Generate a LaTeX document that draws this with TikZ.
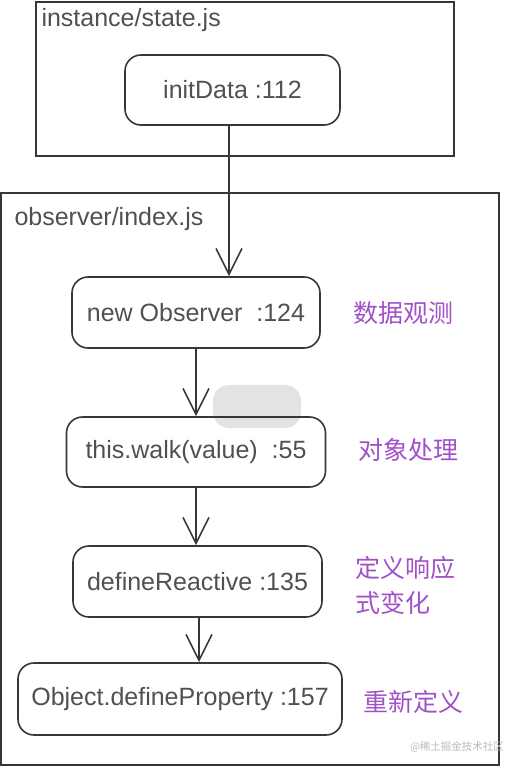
\documentclass[tikz,border=0pt]{standalone}
\usepackage{fontspec}
\setmainfont{Liberation Sans}
\newfontfamily\cjk{Noto Sans CJK SC}
\usetikzlibrary{arrows.meta}
\definecolor{inkgray}{RGB}{55,55,55}
\definecolor{textgray}{RGB}{80,80,80}
\definecolor{notepurple}{RGB}{160,80,200}

\begin{document}
\begin{tikzpicture}[x=1pt,y=-1pt,
  every node/.style={font=\fontsize{25}{29}\selectfont, text=textgray},
  callbox/.style={draw=inkgray, line width=1.6pt, rounded corners=16pt, inner sep=0pt},
  filebox/.style={draw=inkgray, line width=1.8pt},
  flow/.style={draw=inkgray, line width=1.6pt, -{Straight Barb[length=26pt,width=26pt]}},
  note/.style={text=notepurple, font=\cjk\fontsize{25}{35}\selectfont}]
  \useasboundingbox (0,0) rectangle (522,770);

  % the grey blob over the walk box
  \fill[gray!22, rounded corners=16pt] (213,385) rectangle (301,428);

  % files
  \draw[filebox] (36,2) rectangle (454,156);
  \node[anchor=west] (statejs) at (38,20) {instance/state.js};
  \draw[filebox] (1,193) rectangle (499,765);
  \node[anchor=west] (indexjs) at (11,219) {observer/index.js};

  % calls
  \node[callbox, minimum width=215pt, minimum height=70pt] (initdata) at (232.5,90) {initData :112};
  \node[callbox, minimum width=248pt, minimum height=71pt] (newobs) at (196,312.5) {new Observer~ :124};
  \node[callbox, minimum width=259pt, minimum height=70pt] (walk) at (196,452) {this.walk(value)~ :55};
  \node[callbox, minimum width=249pt, minimum height=71pt] (defreact) at (197.5,581.5) {defineReactive :135};
  \node[callbox, minimum width=324pt, minimum height=72pt] (defprop) at (180,699) {Object.defineProperty :157};

  \coordinate (initfoot) at (229,125);
  \coordinate (reactfoot) at (199,617);
  \draw[flow] (initfoot) -- (initfoot |- newobs.north);
  \draw[flow] (newobs.south) -- (walk.north);
  \draw[flow] (walk.south) -- (walk.south |- defreact.north);
  \draw[flow] (reactfoot) -- (reactfoot |- defprop.north);

  % notes
  \node[note] (noteobs) at (403,313) {数据观测};
  \node[note] (notewalk) at (408,450) {对象处理};
  \node[note, anchor=west, align=left] (notereact) at (352,585) {定义响应\\式变化};
  \node[note] (noteprop) at (413,702) {重新定义};

  \node[text=gray!55, font=\cjk\fontsize{10.5}{12}\selectfont] (mark) at (457,747) {@稀土掘金技术社区};
\end{tikzpicture}
\end{document}
